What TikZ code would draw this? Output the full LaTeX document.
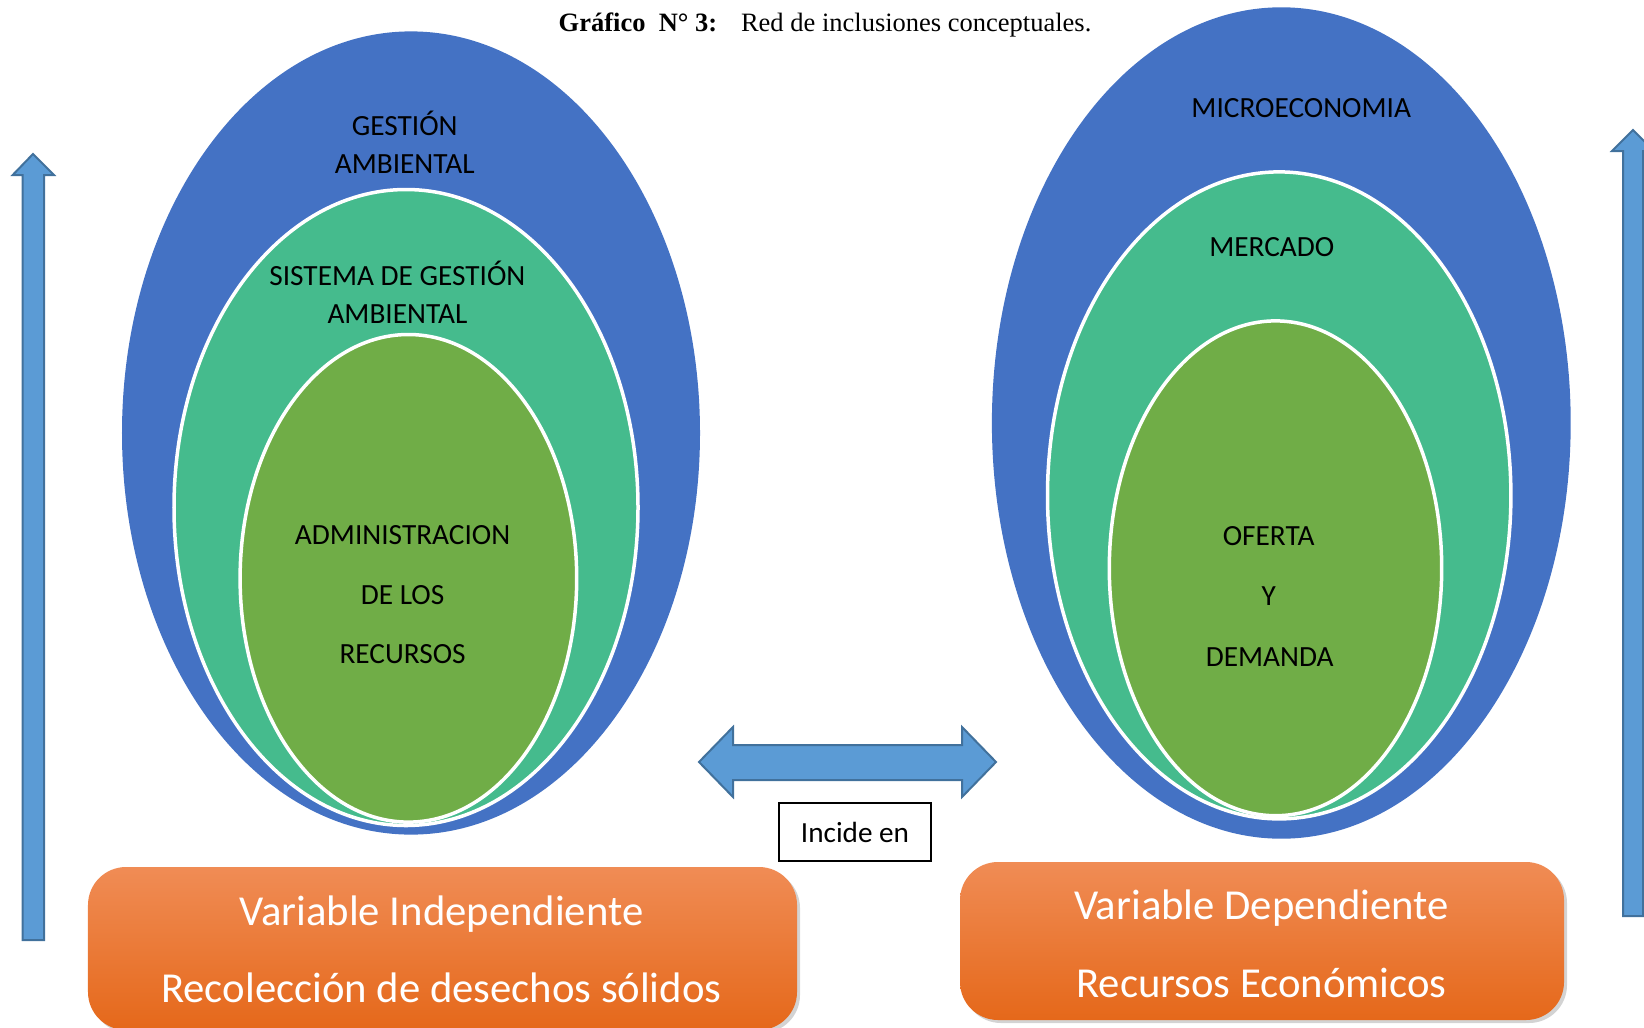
\documentclass[tikz,border=0pt]{standalone}
\usepackage{fontspec}
\setmainfont{Carlito}
\newfontfamily\timesf{Liberation Serif}
\usetikzlibrary{shadows}
\definecolor{cblue}{HTML}{4472C4}
\definecolor{cteal}{HTML}{45BB8D}
\definecolor{cgreen}{HTML}{70AD47}
\definecolor{afill}{HTML}{5B9BD5}
\definecolor{aline}{HTML}{41719C}
\definecolor{otop}{HTML}{F08C55}
\definecolor{omid}{HTML}{F27C2A}
\definecolor{obot}{HTML}{E5681A}
\tikzset{
  outerell/.style={fill=cblue},
  midell/.style={fill=cteal, draw=white, line width=3.5bp},
  innerell/.style={fill=cgreen, draw=white, line width=3.5bp},
  elltext/.style={anchor=base, inner sep=0pt, font=\fontsize{29.3bp}{35bp}\selectfont},
  blockarrow/.style={fill=afill, draw=aline, line width=2bp, line join=miter},
  obox/.style={rectangle, rounded corners=38bp, top color=otop, middle color=omid, bottom color=obot,
    drop shadow={opacity=0.35, shadow xshift=3bp, shadow yshift=-3bp}, inner sep=0pt},
  otext/.style={anchor=base, inner sep=0pt, text=white, font=\fontsize{42.7bp}{50bp}\selectfont},
  incbox/.style={draw=black, line width=1.8bp, fill=white, minimum width=152bp, minimum height=58bp,
    inner sep=0pt, font=\fontsize{29.2bp}{35bp}\selectfont}
}
\begin{document}
\begin{tikzpicture}[x=1bp, y=-1bp]
\useasboundingbox (0,0) rectangle (1644,1027);
\clip (0,0) rectangle (1644,1027);
% title
\node[anchor=base, inner sep=0pt, font=\timesf\fontsize{26.5bp}{32bp}\selectfont] (title) at (825,31.5)
  {\textbf{Gráfico\ \ N° 3:}\hspace{0.9em}Red de inclusiones conceptuales.};
% left ellipses
\path[outerell] (411,433) ellipse [x radius=289bp, y radius=401.6bp];
\path[midell] (406,507.5) ellipse [x radius=232bp, y radius=318bp];
\path[innerell] (408.4,578.3) ellipse [x radius=168.3bp, y radius=243.8bp];
% right ellipses
\path[outerell] (1281.3,423) ellipse [x radius=289.4bp, y radius=415.7bp];
\path[midell] (1279.2,495.4) ellipse [x radius=231.7bp, y radius=323.5bp];
\path[innerell] (1275.5,568.3) ellipse [x radius=166.2bp, y radius=247.4bp];
% left texts
\node[elltext] (ga1) at (404.7,135.3) {GESTIÓN};
\node[elltext] (ga2) at (404.7,173.1) {AMBIENTAL};
\node[elltext] (sg1) at (397.4,285.3) {SISTEMA DE GESTIÓN};
\node[elltext] (sg2) at (397.4,323) {AMBIENTAL};
\node[elltext] (ad1) at (402.6,544.2) {ADMINISTRACION};
\node[elltext] (ad2) at (402.6,604) {DE LOS};
\node[elltext] (ad3) at (402.6,663.8) {RECURSOS};
% right texts
\node[elltext] (mi) at (1301.2,117.5) {MICROECONOMIA};
\node[elltext] (me) at (1271.8,256) {MERCADO};
\node[elltext] (of1) at (1268.7,545.3) {OFERTA};
\node[elltext] (of2) at (1268.7,605) {Y};
\node[elltext] (of3) at (1269.7,666) {DEMANDA};
% vertical arrows
\draw[blockarrow] (33,154) -- (54,175) -- (44,175) -- (44,940) -- (22.7,940) -- (22.7,175) -- (12.7,175) -- cycle;
\draw[blockarrow] (1633,130) -- (1654,151) -- (1643,151) -- (1643,916) -- (1623,916) -- (1623,151) -- (1612,151) -- cycle;
% double arrow
\draw[blockarrow] (699,762) -- (733,727) -- (733,745) -- (962,745) -- (962,727) -- (996,762)
  -- (962,797) -- (962,780) -- (733,780) -- (733,797) -- cycle;
% incide en
\node[incbox] (inc) at (855,832) {Incide en};
% orange boxes
\node[obox, minimum width=709bp, minimum height=163bp] (vi) at (442.5,948.5) {};
\node[obox, minimum width=604bp, minimum height=158bp] (vd) at (1262,941) {};
\node[otext] (vi1) at (441.4,925) {Variable Independiente};
\node[otext] (vi2) at (441.4,1002) {Recolección de desechos sólidos};
\node[otext] (vd1) at (1261.4,919.5) {Variable Dependiente};
\node[otext] (vd2) at (1261.4,997) {Recursos Económicos};
\end{tikzpicture}
\end{document}
